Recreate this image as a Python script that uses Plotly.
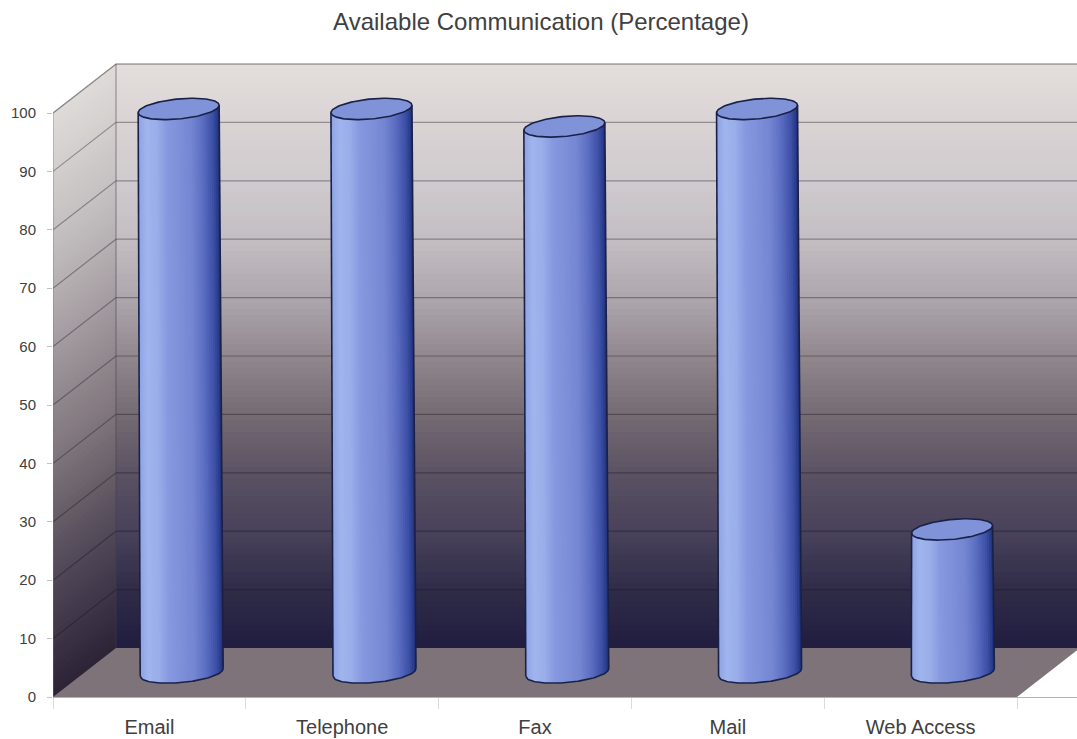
import numpy as np
import plotly.graph_objects as go

# Chart data
categories = ["Email", "Telephone", "Fax", "Mail", "Web Access"]
percentages = [96.5, 96.5, 93.5, 96.5, 24.5]
value_ticks = list(range(0, 101, 10))
title_text = "Available Communication (Percentage)"

# Oblique projection of the chart box, in axis units
DEPTH_X = 63 / 192.8
DEPTH_Y = 49 / 5.84
X_MAX = 1024 / 192.8
Y_MAX = 637 / 5.84
N_CAT = len(categories)

# Cylinder proportions, in axis units
RX_TOP = 40.5 / 192.8
RX_BASE = 41.5 / 192.8
RY = 10 / 5.84
TILT = 3.7 / 5.84
LEAN = 3.0 / 192.8

WALL_STOPS = [(0, "#1f1c40"), (10, "#2f2b47"), (20, "#47415a"), (30, "#5a5163"), (40, "#736a72"),
              (50, "#8f878c"), (60, "#aca5ab"), (70, "#c3bdc2"), (80, "#cfcacd"), (90, "#d9d3d4"),
              (100, "#e3dddb")]
SIDE_STOPS = [(0, "#2c2236"), (10, "#3d3447"), (20, "#4f4657"), (30, "#665c66"), (40, "#7c7279"),
              (50, "#8f868c"), (60, "#a39a9f"), (70, "#b5afb2"), (80, "#c5c0c1"), (90, "#d2cecd"),
              (100, "#dedad8")]
BODY_STOPS = [(-1.0, "#8ca3e4"), (-0.8, "#a0b4ee"), (-0.55, "#9aaeea"), (-0.3, "#8699e0"),
              (0.0, "#7e90d8"), (0.3, "#7586d2"), (0.6, "#5a6cc0"), (0.85, "#3a4ea4"), (1.0, "#1f2f78")]
OUTLINE = "#1a2148"
GRID = "rgba(25,18,35,0.36)"
FLOOR = "#7d7379"


def blend(stops, t):
    xs = [s[0] for s in stops]
    rgb = [[int(s[1][i:i + 2], 16) for i in (1, 3, 5)] for s in stops]
    return "rgb({:.0f},{:.0f},{:.0f})".format(*(np.interp(t, xs, [c[k] for c in rgb]) for k in range(3)))


def poly(fig, xs, ys, color):
    fig.add_trace(go.Scatter(x=xs, y=ys, mode="lines", fill="toself", fillcolor=color,
                             line=dict(width=0), hoverinfo="skip", showlegend=False))


def stroke(fig, xs, ys, color, width):
    fig.add_trace(go.Scatter(x=xs, y=ys, mode="lines", line=dict(color=color, width=width),
                             hoverinfo="skip", showlegend=False))


fig = go.Figure()

# Back wall and side wall, painted from the top down so the bands never show seams
levels = np.arange(100, -0.5, -1.0)
for v in levels:
    poly(fig, [DEPTH_X, X_MAX, X_MAX, DEPTH_X], [DEPTH_Y, DEPTH_Y, v + DEPTH_Y, v + DEPTH_Y], blend(WALL_STOPS, v))
    poly(fig, [0, DEPTH_X, DEPTH_X, 0], [0, DEPTH_Y, v + DEPTH_Y, v], blend(SIDE_STOPS, v))

# Floor
poly(fig, [0, N_CAT, N_CAT + DEPTH_X, DEPTH_X], [0, 0, DEPTH_Y, DEPTH_Y], FLOOR)

# Gridlines on both walls
for v in value_ticks[1:]:
    stroke(fig, [0, DEPTH_X, X_MAX], [v, v + DEPTH_Y, v + DEPTH_Y], GRID, 1.2)
stroke(fig, [0, 0, DEPTH_X, X_MAX], [0, 100, 100 + DEPTH_Y, 100 + DEPTH_Y], "rgba(130,122,122,0.6)", 1.2)
stroke(fig, [DEPTH_X, DEPTH_X], [DEPTH_Y, 100 + DEPTH_Y], "rgba(70,62,70,0.4)", 1.4)

# Cylinders
u = np.linspace(-1, 1, 43)
arc = np.linspace(-1, 1, 81)
for i, value in enumerate(percentages):
    xb = i + 0.5 + DEPTH_X / 2 + 0.004
    yb = DEPTH_Y / 2
    xt = xb - LEAN * value / 96.5
    yt = yb + value
    for j in range(len(u) - 1):
        a, c = u[j], u[min(j + 2, len(u) - 1)]
        ya_b = yb + TILT * a - RY * np.sqrt(1 - a * a)
        yc_b = yb + TILT * c - RY * np.sqrt(1 - c * c)
        poly(fig,
             [xb + RX_BASE * a, xb + RX_BASE * c, xt + RX_TOP * c, xt + RX_TOP * a],
             [ya_b, yc_b, yt + TILT * c, yt + TILT * a],
             blend(BODY_STOPS, (u[j] + u[j + 1]) / 2))

    # Top cap
    t = np.linspace(0, 2 * np.pi, 121)
    cap_x = xt + RX_TOP * np.cos(t)
    cap_y = yt + TILT * np.cos(t) + RY * np.sin(t)
    poly(fig, cap_x, cap_y, "#8092d8")
    stroke(fig, cap_x, cap_y, OUTLINE, 1.6)

    # Silhouette: both sides and the lower rim
    stroke(fig, [xt - RX_TOP, xb - RX_BASE], [yt - TILT, yb - TILT], OUTLINE, 1.6)
    stroke(fig, [xt + RX_TOP, xb + RX_BASE], [yt + TILT, yb + TILT], OUTLINE, 1.6)
    stroke(fig, xb + RX_BASE * arc, yb + TILT * arc - RY * np.sqrt(1 - arc * arc), OUTLINE, 1.6)

fig.update_layout(
    width=1077, height=739,
    margin=dict(l=53, r=0, t=60, b=42, autoexpand=False),
    paper_bgcolor="#ffffff", plot_bgcolor="#ffffff",
    showlegend=False,
    font=dict(family="Liberation Sans, Arial, sans-serif", color="#404040"),
    title=dict(text=title_text, x=541 / 1077, xanchor="center", y=1 - 22 / 739, yanchor="middle",
               font=dict(size=24, color="#404040")),
    xaxis=dict(range=[0, X_MAX], automargin=False, showgrid=False, zeroline=False, showline=True,
               linecolor="#b5b2b2", linewidth=1,
               tickmode="array", tickvals=[k + 0.5 for k in range(N_CAT)], ticktext=categories,
               ticks="outside", ticklen=0, ticklabelstandoff=12, tickfont=dict(size=20, color="#404040"),
               minor=dict(tickmode="array", tickvals=list(range(N_CAT + 1)), ticks="outside",
                          ticklen=11, tickcolor="#dcdcd6", tickwidth=1)),
    yaxis=dict(range=[0, Y_MAX], automargin=False, showgrid=False, zeroline=False, showline=False,
               tickmode="array", tickvals=value_ticks,
               ticks="outside", ticklen=5, tickcolor="#c4c2be", tickwidth=1,
               ticklabelstandoff=8, tickfont=dict(size=15, color="#404040")),
)

fig.write_html("out.html")
